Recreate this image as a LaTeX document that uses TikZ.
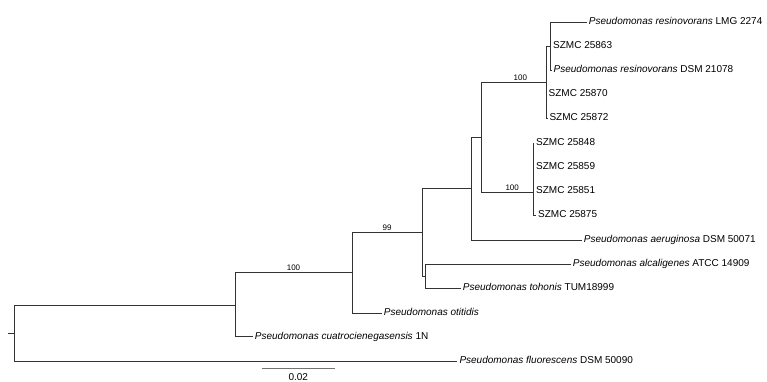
\documentclass[tikz,border=0pt]{standalone}
\usepackage{fontspec}
\setmainfont{Liberation Sans}
\usepackage{tikz}
\usetikzlibrary{positioning,calc}
\newcommand{\psd}[1]{\textit{Pseudomonas #1}}

\begin{document}
\begin{tikzpicture}[
    x=1pt, y=-1pt,
    branch/.style={draw=black!80, line width=0.8pt},
    leaf/.style={anchor=west, inner sep=2pt, font=\fontsize{10}{12}\selectfont, text height=7.2pt, text depth=2pt},
    boot/.style={above, inner sep=1.5pt, font=\fontsize{8}{9}\selectfont},
    scalebar/.style={draw=black!55, line width=1.2pt}
]
    \useasboundingbox (0,0) rectangle (767,381);

    % internal nodes
    \coordinate (stub) at (8,333);
    \coordinate (root) at (14,333);
    \coordinate (nA) at (235,305);
    \coordinate (nB) at (352,272.7);
    \coordinate (nC) at (422,232.3);
    \coordinate (nD) at (425,276.3);
    \coordinate (nE) at (471.7,188.3);
    \coordinate (nF) at (481,137);
    \coordinate (nG) at (533,192);
    \coordinate (nH) at (546.5,82);
    \coordinate (nI) at (550,46);

    % leaves
    \node[leaf] (lmg) at (586.7,22) {\psd{resinovorans} LMG 2274};
    \node[leaf] (s863) at (551,46) {SZMC 25863};
    \node[leaf] (dsm) at (551.5,70) {\psd{resinovorans} DSM 21078};
    \node[leaf] (s870) at (546.5,94) {SZMC 25870};
    \node[leaf] (s872) at (547.3,118) {SZMC 25872};
    \node[leaf] (s848) at (534,143) {SZMC 25848};
    \node[leaf] (s859) at (534,167) {SZMC 25859};
    \node[leaf] (s851) at (534,191) {SZMC 25851};
    \node[leaf] (s875) at (536,215) {SZMC 25875};
    \node[leaf] (aer) at (581.7,240) {\psd{aeruginosa} DSM 50071};
    \node[leaf] (alc) at (570.7,264) {\psd{alcaligenes} ATCC 14909};
    \node[leaf] (toh) at (460.7,288.3) {\psd{tohonis} TUM18999};
    \node[leaf] (oti) at (381.7,313) {\psd{otitidis}};
    \node[leaf] (cua) at (252.7,336.7) {\psd{cuatrocienegasensis} 1N};
    \node[leaf] (flu) at (457.3,361) {\psd{fluorescens} DSM 50090};

    % branches
    \draw[branch] (stub) -- (root);
    \draw[branch] (root) |- (nA);
    \draw[branch] (root) |- (flu.west);
    \draw[branch] (nA) |- node[boot, pos=0.75] (bsB) {100} (nB);
    \draw[branch] (nA) |- (cua.west);
    \draw[branch] (nB) |- node[boot, pos=0.75] (bsC) {99} (nC);
    \draw[branch] (nB) |- (oti.west);
    \draw[branch] (nC) |- (nE);
    \draw[branch] (nC) |- (nD);
    \draw[branch] (nD) |- (alc.west);
    \draw[branch] (nD) |- (toh.west);
    \draw[branch] (nE) |- (nF);
    \draw[branch] (nE) |- (aer.west);
    \draw[branch] (nF) |- node[boot, pos=0.8] (bsH) {100} (nH);
    \draw[branch] (nF) |- node[boot, pos=0.8] (bsG) {100} (nG);
    \draw[branch] (nG) |- (s848.west);
    \draw[branch] (nG) |- (s859.west);
    \draw[branch] (nG) |- (s851.west);
    \draw[branch] (nG) |- (s875.west);
    \draw[branch] (nH) |- (nI);
    \draw[branch] (nH) |- (s870.west);
    \draw[branch] (nH) |- (s872.west);
    \draw[branch] (nI) |- (lmg.west);
    \draw[branch] (nI) |- (s863.west);
    \draw[branch] (nI) |- (dsm.west);

    % scale bar
    \coordinate (sbL) at (261.7,368.3);
    \coordinate (sbR) at (335,368.3);
    \draw[scalebar] (sbL) -- (sbR);
    \node[font=\fontsize{10}{12}\selectfont, inner sep=0pt] (sbT) at (298.3,377) {0.02};
\end{tikzpicture}
\end{document}
